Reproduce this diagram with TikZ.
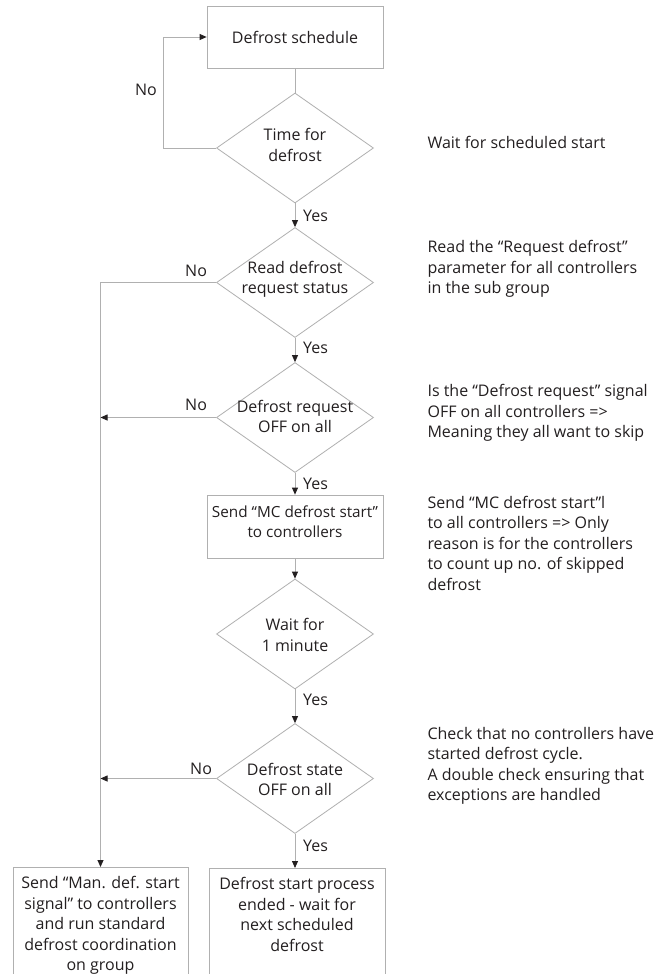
\documentclass[tikz,border=0pt]{standalone}
\usepackage{fontspec}
\setmainfont{Open Sans}
\usetikzlibrary{shapes.geometric,arrows.meta,calc}
\definecolor{ln}{HTML}{B0B0B0}
\definecolor{tx}{HTML}{231F20}
\begin{document}
\begin{tikzpicture}[x=1pt,y=-1pt,
  font=\fontsize{16}{20.5}\selectfont, text=tx,
  box/.style={draw=ln, line width=0.8pt, rectangle, inner sep=0pt},
  dia/.style={draw=ln, line width=0.8pt, diamond, inner sep=0pt, minimum width=157pt, minimum height=110pt},
  con/.style={draw=ln, line width=0.8pt},
  arr/.style={con, -{Triangle[length=7pt,width=6pt,color=tx]}},
  note/.style={anchor=west, align=left},
  lbl/.style={inner sep=0pt}]
\useasboundingbox (0,0) rectangle (664,974);
\fill[white] (0,0) rectangle (664,974);
\clip (0,0) rectangle (664,974);

% boxes
\node[box, minimum width=176pt, minimum height=62pt] (sched) at (295,37) {Defrost schedule};
\node[dia, label={[align=center,yshift=3pt]center:Time for\\defrost}] (d1) at (295,148) {};
\node[dia, label={[align=center,yshift=3pt]center:Read defrost\\request status}] (d2) at (295,282.5) {};
\node[dia, label={[align=center,yshift=1pt]center:Defrost request\\OFF on all}] (d3) at (295,417.5) {};
\node[box, minimum width=176pt, minimum height=63pt, label={[align=center,yshift=4.5pt,font=\fontsize{15.3}{20}\selectfont]center:Send “MC defrost start”\\to controllers}] (mc) at (295,526.5) {};
\node[dia, label={[align=center,yshift=-1pt]center:Wait for\\1 minute}] (d4) at (295,634) {};
\node[dia, label={[align=center,yshift=-1pt]center:Defrost state\\OFF on all}] (d5) at (295,778.5) {};
\node[box, minimum width=175pt, minimum height=140pt, anchor=north, label={[anchor=north,align=center,yshift=-6pt]north:Send “Man. def. start\\signal” to controllers\\and run standard\\defrost coordination\\on group}] (man) at (100.5,867) {};
\node[box, minimum width=176pt, minimum height=140pt, anchor=north, label={[anchor=north,align=center,yshift=-6pt]north:Defrost start process\\ended - wait for\\next scheduled\\defrost}] (endb) at (297,868) {};

% side notes
\node[note] (n1) at (424,142) {Wait for scheduled start};
\node[note] (n2) at (424,269) {Read the “Request defrost”\\parameter for all controllers\\in the sub group};
\node[note] (n3) at (424,413) {Is the “Defrost request” signal\\OFF on all controllers =>\\Meaning they all want to skip};
\node[note] (n4) at (424,543) {Send “MC defrost start”l\\to all controllers => Only\\reason is for the controllers\\to count up no. of skipped\\defrost};
\node[note] (n5) at (424,766) {Check that no controllers have\\started defrost cycle.\\A double check ensuring that\\exceptions are handled};

% connectors
\draw[con] (sched.south) -- (d1.north);
\coordinate (lp) at (163,148);
\draw[arr] (d1.west) -- (lp) |- (sched.west);
\node[lbl] (no1) at (146,90) {No};
\draw[arr] (d1.south) -- (d2.north);
\path (d1.south) ++(8,12) node[lbl,anchor=west] (y1) {Yes};
\draw[arr] (d2.west) -| (man.north);
\path (d2.west) ++(-20,-12) node[lbl] (no2) {No};
\draw[arr] (d2.south) -- (d3.north);
\path (d2.south) ++(8,10) node[lbl,anchor=west] (y2) {Yes};
\coordinate (j1) at (100.5,417.5);
\draw[arr] (d3.west) -- (j1);
\path (d3.west) ++(-20,-13) node[lbl] (no3) {No};
\draw[arr] (d3.south) -- (mc.north);
\path (d3.south) ++(8,11) node[lbl,anchor=west] (y3) {Yes};
\draw[arr] (mc.south) -- (d4.north);
\draw[arr] (d4.south) -- (d5.north);
\path (d4.south) ++(8,10) node[lbl,anchor=west] (y4) {Yes};
\coordinate (j2) at (100.5,778.5);
\draw[arr] (d5.west) -- (j2);
\path (d5.west) ++(-15,-10) node[lbl] (no4) {No};
\draw[arr] (d5.south) -- (d5.south |- endb.north);
\path (d5.south) ++(8,12) node[lbl,anchor=west] (y5) {Yes};
\end{tikzpicture}
\end{document}
